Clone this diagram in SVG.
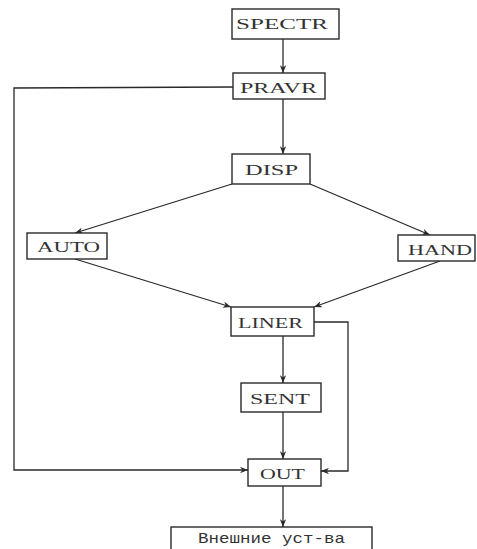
<svg xmlns="http://www.w3.org/2000/svg" width="477" height="549" viewBox="0 0 477 549">
<defs>
<style>
.box{fill:#fff;stroke:#2a2a2a;stroke-width:1.4}
.lbl{font-family:"Liberation Serif",serif;font-size:15px;fill:#333}
.ru{font-family:"Liberation Mono","DejaVu Sans Mono",monospace;font-size:15px;fill:#333}
.ln{fill:none;stroke:#2a2a2a;stroke-width:1.3}
</style>
<marker id="ar" viewBox="0 0 10 8" refX="10" refY="4" markerWidth="8" markerHeight="6.4" orient="auto" markerUnits="userSpaceOnUse">
<path d="M0,0 L10,4 L0,8 L3,4 Z" fill="#2a2a2a"/>
</marker>
</defs>
<rect width="477" height="549" fill="#fff"/>
<g id="connectors">
<line class="ln" x1="283" y1="39" x2="283" y2="73" marker-end="url(#ar)"/>
<line class="ln" x1="283" y1="99" x2="283" y2="154" marker-end="url(#ar)"/>
<polyline class="ln" points="233,87 14,88 14,470 248,470" marker-end="url(#ar)"/>
<line class="ln" x1="232" y1="184" x2="75" y2="233" marker-end="url(#ar)"/>
<line class="ln" x1="310" y1="184" x2="430" y2="235" marker-end="url(#ar)"/>
<line class="ln" x1="75" y1="259" x2="231" y2="307" marker-end="url(#ar)"/>
<line class="ln" x1="440" y1="261" x2="314" y2="307" marker-end="url(#ar)"/>
<line class="ln" x1="283" y1="336" x2="283" y2="383" marker-end="url(#ar)"/>
<polyline class="ln" points="314,322 348,322 348,471 321,471" marker-end="url(#ar)"/>
<line class="ln" x1="283" y1="412" x2="283" y2="459" marker-end="url(#ar)"/>
<line class="ln" x1="283" y1="486" x2="283" y2="527" marker-end="url(#ar)"/>
</g>
<g id="SPECTR"><rect class="box" x="232" y="9" width="107" height="30"/><text class="lbl" x="236" y="29" textLength="92" lengthAdjust="spacingAndGlyphs">SPECTR</text></g>
<g id="PRAVR"><rect class="box" x="233" y="73" width="92" height="26"/><text class="lbl" x="240" y="93" textLength="77" lengthAdjust="spacingAndGlyphs">PRAVR</text></g>
<g id="DISP"><rect class="box" x="232" y="154" width="78" height="30"/><text class="lbl" x="245" y="175" textLength="53" lengthAdjust="spacingAndGlyphs">DISP</text></g>
<g id="AUTO"><rect class="box" x="27" y="233" width="80" height="26"/><text class="lbl" x="37" y="252" textLength="63" lengthAdjust="spacingAndGlyphs">AUTO</text></g>
<g id="HAND"><rect class="box" x="398" y="235" width="77" height="26"/><text class="lbl" x="408" y="255" textLength="64" lengthAdjust="spacingAndGlyphs">HAND</text></g>
<g id="LINER"><rect class="box" x="231" y="307" width="83" height="29"/><text class="lbl" x="238" y="328" textLength="65" lengthAdjust="spacingAndGlyphs">LINER</text></g>
<g id="SENT"><rect class="box" x="241" y="383" width="80" height="29"/><text class="lbl" x="250" y="404" textLength="60" lengthAdjust="spacingAndGlyphs">SENT</text></g>
<g id="OUT"><rect class="box" x="248" y="459" width="73" height="27"/><text class="lbl" x="260" y="479" textLength="45" lengthAdjust="spacingAndGlyphs">OUT</text></g>
<g id="EXT"><rect class="box" x="171" y="527" width="201" height="30"/><text class="ru" x="198" y="543" textLength="147" lengthAdjust="spacingAndGlyphs">Внешние уст-ва</text></g>
</svg>
